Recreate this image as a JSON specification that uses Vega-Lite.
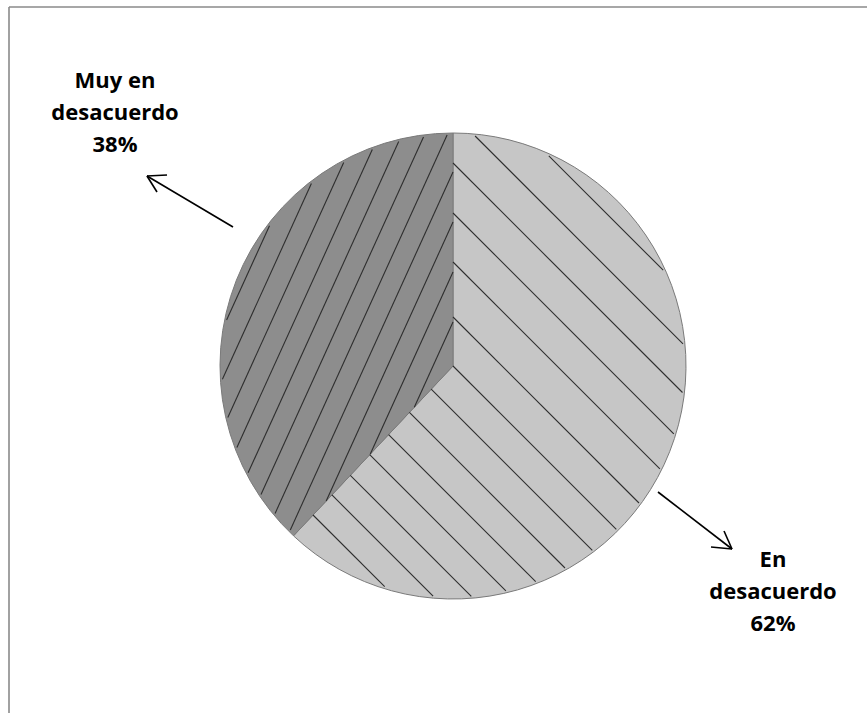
{
  "$schema": "https://vega.github.io/schema/vega-lite/v6.json",
  "width": 867,
  "height": 713,
  "autosize": {"type": "none"},
  "padding": 0,
  "background": "white",
  "config": {"view": {"stroke": null}},
  "datasets": {
    "slices": [
      {"label": "En desacuerdo", "value": 62},
      {"label": "Muy en desacuerdo", "value": 38}
    ],
    "hatch": [
      {"slice": "En desacuerdo", "x": 95.8, "y": 210.2, "x2": 210.2, "y2": 95.8},
      {"slice": "En desacuerdo", "x": 22.1, "y": 230.0, "x2": 230.0, "y2": 22.1},
      {"slice": "En desacuerdo", "x": 0, "y": 203, "x2": 229.5, "y2": -26.5},
      {"slice": "En desacuerdo", "x": 0, "y": 153, "x2": 220.8, "y2": -67.8},
      {"slice": "En desacuerdo", "x": 0, "y": 104, "x2": 206.9, "y2": -102.9},
      {"slice": "En desacuerdo", "x": 0, "y": 49, "x2": 186, "y2": -137},
      {"slice": "En desacuerdo", "x": 0, "y": 0, "x2": 163.3, "y2": -163.3},
      {"slice": "En desacuerdo", "x": -21.8, "y": -23.2, "x2": 139.3, "y2": -184.3},
      {"slice": "En desacuerdo", "x": -43.6, "y": -46.4, "x2": 112, "y2": -202},
      {"slice": "En desacuerdo", "x": -64.4, "y": -68.6, "x2": 82.7, "y2": -215.7},
      {"slice": "En desacuerdo", "x": -83.3, "y": -88.7, "x2": 52.9, "y2": -224.9},
      {"slice": "En desacuerdo", "x": -102.7, "y": -109.3, "x2": 18.3, "y2": -230.3},
      {"slice": "En desacuerdo", "x": -121.1, "y": -128.9, "x2": -19.9, "y2": -230.2},
      {"slice": "En desacuerdo", "x": -140, "y": -149, "x2": -68.3, "y2": -220.7},
      {"slice": "Muy en desacuerdo", "x": -38.7, "y": -41.2, "x2": 0, "y2": 44},
      {"slice": "Muy en desacuerdo", "x": -82.7, "y": -88, "x2": 0, "y2": 94},
      {"slice": "Muy en desacuerdo", "x": -126.8, "y": -134.9, "x2": 0, "y2": 144},
      {"slice": "Muy en desacuerdo", "x": -162.7, "y": -163.9, "x2": 0, "y2": 194},
      {"slice": "Muy en desacuerdo", "x": -177.9, "y": -147.4, "x2": -5.9, "y2": 230.9},
      {"slice": "Muy en desacuerdo", "x": -192, "y": -128.4, "x2": -29.5, "y2": 229.1},
      {"slice": "Muy en desacuerdo", "x": -204.9, "y": -106.8, "x2": -54.3, "y2": 224.5},
      {"slice": "Muy en desacuerdo", "x": -216.1, "y": -81.4, "x2": -80.7, "y2": 216.5},
      {"slice": "Muy en desacuerdo", "x": -225.2, "y": -51.4, "x2": -109.3, "y2": 203.5},
      {"slice": "Muy en desacuerdo", "x": -230.6, "y": -13.3, "x2": -141.6, "y2": 182.5},
      {"slice": "Muy en desacuerdo", "x": -226.4, "y": 45.9, "x2": -183.5, "y2": 140.3}
    ],
    "arrows": [
      {"part": "left shaft", "x": -220, "y": 139, "x2": -306, "y2": 190},
      {"part": "left head a", "x": -306, "y": 190, "x2": -286, "y2": 191},
      {"part": "left head b", "x": -306, "y": 190, "x2": -296, "y2": 174},
      {"part": "right shaft", "x": 205, "y": -126, "x2": 279, "y2": -183},
      {"part": "right head a", "x": 279, "y": -183, "x2": 258, "y2": -181},
      {"part": "right head b", "x": 279, "y": -183, "x2": 271, "y2": -165}
    ],
    "labels": [
      {"text": "Muy en\ndesacuerdo\n38%", "x": -338, "y": 278},
      {"text": "En\ndesacuerdo\n62%", "x": 320, "y": -201}
    ],
    "frame": [
      {"side": "top", "x": -444, "y": 359, "x2": 420, "y2": 359},
      {"side": "left", "x": -444, "y": 359, "x2": -444, "y2": -350}
    ]
  },
  "layer": [
    {
      "data": {"name": "frame"},
      "mark": {"type": "rule", "color": "#8a8a8a", "strokeWidth": 1.6},
      "encoding": {
        "x": {"field": "x", "type": "quantitative", "scale": {"domain": [-453, 414], "nice": false, "zero": false}, "axis": null},
        "y": {"field": "y", "type": "quantitative", "scale": {"domain": [-347, 366], "nice": false, "zero": false}, "axis": null},
        "x2": {"field": "x2"},
        "y2": {"field": "y2"}
      }
    },
    {
      "data": {"name": "slices"},
      "mark": {"type": "arc", "radius": 233, "stroke": "#7a7a7a", "strokeWidth": 1},
      "encoding": {
        "x": {"datum": 0, "type": "quantitative", "scale": {"domain": [-453, 414], "nice": false, "zero": false}, "axis": null},
        "y": {"datum": 0, "type": "quantitative", "scale": {"domain": [-347, 366], "nice": false, "zero": false}, "axis": null},
        "theta": {"field": "value", "type": "quantitative", "stack": true},
        "order": {"field": "value", "sort": "descending"},
        "color": {"field": "label", "type": "nominal", "scale": {"domain": ["En desacuerdo", "Muy en desacuerdo"], "range": ["#c6c6c6", "#8d8d8d"]}, "legend": null}
      }
    },
    {
      "data": {"name": "hatch"},
      "mark": {"type": "rule", "color": "#2e2e2e", "strokeWidth": 1.1},
      "encoding": {
        "x": {"field": "x", "type": "quantitative", "scale": {"domain": [-453, 414], "nice": false, "zero": false}, "axis": null},
        "y": {"field": "y", "type": "quantitative", "scale": {"domain": [-347, 366], "nice": false, "zero": false}, "axis": null},
        "x2": {"field": "x2"},
        "y2": {"field": "y2"}
      }
    },
    {
      "data": {"name": "arrows"},
      "mark": {"type": "rule", "color": "#000000", "strokeWidth": 1.6},
      "encoding": {
        "x": {"field": "x", "type": "quantitative", "scale": {"domain": [-453, 414], "nice": false, "zero": false}, "axis": null},
        "y": {"field": "y", "type": "quantitative", "scale": {"domain": [-347, 366], "nice": false, "zero": false}, "axis": null},
        "x2": {"field": "x2"},
        "y2": {"field": "y2"}
      }
    },
    {
      "data": {"name": "labels"},
      "mark": {"type": "text", "font": "Open Sans", "fontWeight": "bold", "fontSize": 22, "lineBreak": "\n", "lineHeight": 32, "align": "center", "baseline": "alphabetic", "color": "#000000"},
      "encoding": {
        "x": {"field": "x", "type": "quantitative", "scale": {"domain": [-453, 414], "nice": false, "zero": false}, "axis": null},
        "y": {"field": "y", "type": "quantitative", "scale": {"domain": [-347, 366], "nice": false, "zero": false}, "axis": null},
        "text": {"field": "text"}
      }
    }
  ]
}
